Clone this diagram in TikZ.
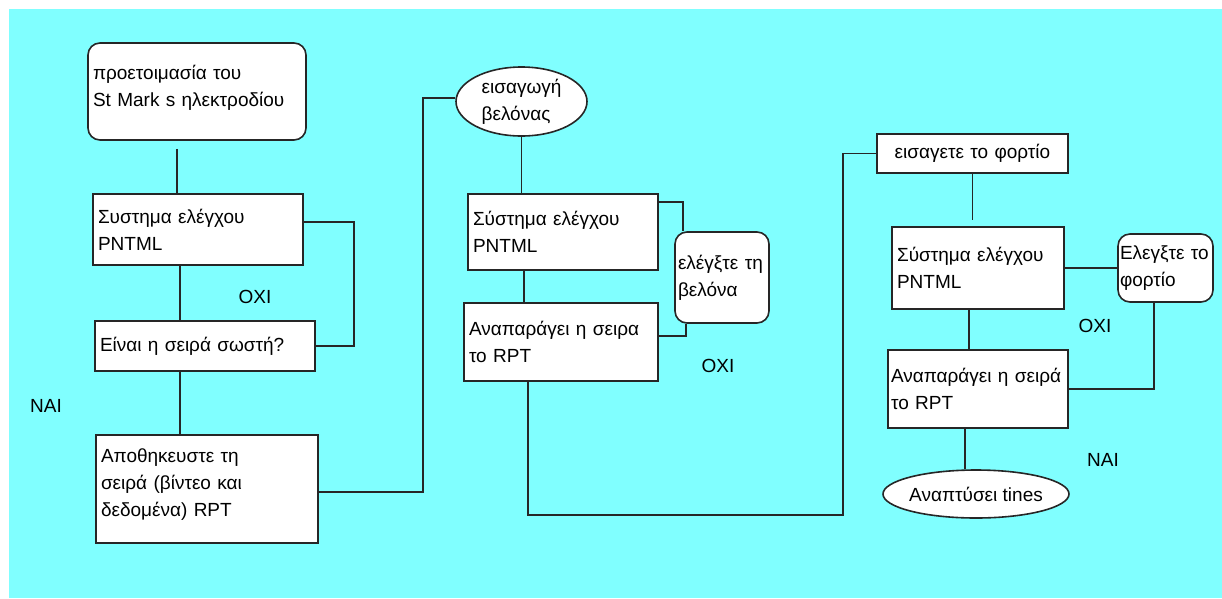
\documentclass[tikz,border=0pt]{standalone}
\usepackage{fontspec}
\setmainfont{Liberation Sans}
\usetikzlibrary{shapes.geometric}
\definecolor{bgcyan}{HTML}{80FFFF}

\begin{document}
\begin{tikzpicture}[x=1pt, y=-1pt,
	txt/.style={font=\fontsize{19}{27}\selectfont},
	box/.style={txt, draw=black!85, line width=1.6pt, fill=white, align=left, inner xsep=5pt, inner ysep=0pt},
	roundbox/.style={box, rounded corners=12pt},
	oval/.style={txt, ellipse, draw=black!85, line width=1.6pt, fill=white, align=left, inner sep=0pt},
	link/.style={draw=black!85, line width=1.6pt}]
	\useasboundingbox (0,0) rectangle (1222,598);
	% background
	\fill[bgcyan] (9,9) rectangle (1222,598);
	
	% first column
	\node[roundbox, minimum width=218pt, minimum height=97pt, text width=208pt] (prep) at (197,91.5) {προετοιμασία του\\St Mark s ηλεκτροδίου\\[-16pt]\mbox{}};
	\node[box, minimum width=210pt, minimum height=71pt, text width=200pt] (check1) at (198,229.5) {Συστημα ελέγχου\\PNTML};
	\node[box, minimum width=220pt, minimum height=50pt, text width=210pt] (order) at (205,346) {Είναι η σειρά σωστή?};
	\node[box, minimum width=222pt, minimum height=108pt, text width=212pt] (save) at (207,489) {Αποθηκευστε τη\\σειρά (βίντεο και\\δεδομένα) RPT\\[-14pt]\mbox{}};
	
	% second column
	\node[oval, minimum width=131pt, minimum height=69pt] (needle) at (521.5,101.5) {εισαγωγή\\βελόνας};
	\node[box, minimum width=190pt, minimum height=76pt, text width=180pt] (check2) at (563,232) {Σύστημα ελέγχου\\PNTML};
	\node[box, minimum width=194pt, minimum height=78pt, text width=184pt] (replay2) at (561,342) {Αναπαράγει η σειρα\\το RPT};
	\node[roundbox, minimum width=94pt, minimum height=91pt, text width=88pt, inner xsep=3pt] (fixneedle) at (722,277.5) {ελέγξτε τη\\βελόνα};
	
	% third column
	\node[box, minimum width=191pt, minimum height=39pt, text width=181pt, align=center] (load) at (972.5,153.5) {εισαγετε το φορτίο};
	\node[box, minimum width=172pt, minimum height=82pt, text width=162pt] (check3) at (978,268) {Σύστημα ελέγχου\\PNTML};
	\node[roundbox, minimum width=95pt, minimum height=68pt, text width=91pt, inner xsep=2pt] (fixload) at (1165.5,268) {Ελεγξτε το\\φορτίο};
	\node[box, minimum width=180pt, minimum height=78pt, text width=174pt, inner xsep=3pt] (replay3) at (978,389) {Αναπαράγει η σειρά\\το RPT};
	\node[oval, minimum width=186pt, minimum height=48pt, inner xsep=-14pt, align=center] (grow) at (976,494) {Αναπτύσει tines};
	
	% labels
	\node[txt] (no1) at (255,297) {ΟΧΙ};
	\node[txt] (yes1) at (46,406) {ΝΑΙ};
	\node[txt] (no2) at (718,366) {ΟΧΙ};
	\node[txt] (no3) at (1095,326) {ΟΧΙ};
	\node[txt] (yes3) at (1103,460) {ΝΑΙ};
	
	% connectors
	\draw[link] ([xshift=-20pt,yshift=-8pt]prep.south) -- ([xshift=-21pt]check1.north);
	\draw[link] ([yshift=7.5pt]check1.east) -- ++(50,0) |- (order.east);
	\draw[link] ([xshift=-18pt]check1.south) -- ([xshift=-18pt]check1.south |- order.north);
	\draw[link] ([xshift=-25pt]order.south) -- ([xshift=-25pt]order.south |- save.north);
	\draw[link] ([yshift=-3pt]save.east) -- ++(104,0) |- ([yshift=3.5pt]needle.west);
	
	\draw[link] (needle.south) -- (needle.south |- check2.north);
	\draw[link] ([xshift=-39pt]check2.south) -- ([xshift=-39pt]check2.south |- replay2.north);
	\draw[link] ([yshift=30pt]check2.east) -| ([xshift=-39pt]fixneedle.north);
	\draw[link] ([xshift=-36pt]fixneedle.south) |- ([yshift=6pt]replay2.east);
	\draw[link] ([xshift=-33pt]replay2.south) -- ++(0,133) -| ([xshift=-33pt]load.west) -- (load.west);
	
	\draw[link] (load.south) -- ([yshift=6pt]load.south |- check3.north);
	\draw[link] (check3.east) -- (fixload.west);
	\draw[link] ([xshift=-9pt]check3.south) -- ([xshift=-9pt]check3.south |- replay3.north);
	\draw[link] ([xshift=-11.5pt]fixload.south) |- (replay3.east);
	\draw[link] ([xshift=-13pt]replay3.south) -- ([xshift=-13pt]replay3.south |- grow.north);
\end{tikzpicture}
\end{document}
